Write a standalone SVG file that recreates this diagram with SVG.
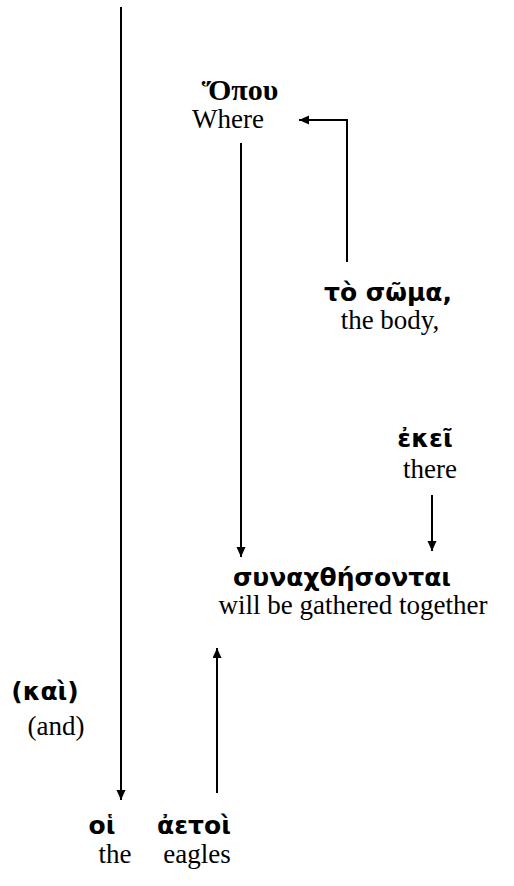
<svg xmlns="http://www.w3.org/2000/svg" width="514" height="886" viewBox="0 0 514 886">
<defs>
<marker id="ah" markerWidth="12" markerHeight="10" refX="10" refY="4.5" orient="auto" markerUnits="userSpaceOnUse">
<path d="M0,0 L10,4.5 L0,9 Z" fill="#000"/>
</marker>
<style>
.gk{font-family:"DejaVu Sans",sans-serif;font-weight:bold;font-size:25px;fill:#000;text-anchor:middle}
.gs{font-family:"Liberation Serif",serif;font-weight:bold;font-size:30px;fill:#000;text-anchor:middle}
.en{font-family:"Liberation Serif",serif;font-size:27px;fill:#000;text-anchor:middle}
.ln{stroke:#000;stroke-width:2;fill:none}
</style>
</defs>
<rect width="514" height="886" fill="#fff"/>
<g id="connectors">
<line class="ln" x1="121" y1="7" x2="121" y2="800" marker-end="url(#ah)"/>
<path class="ln" d="M347,262 V120 H299" marker-end="url(#ah)"/>
<line class="ln" x1="241" y1="143" x2="241" y2="557" marker-end="url(#ah)"/>
<line class="ln" x1="432" y1="495" x2="432" y2="551" marker-end="url(#ah)"/>
<line class="ln" x1="217" y1="793" x2="217" y2="648" marker-end="url(#ah)"/>
</g>
<g id="hopou">
<text class="gs" x="240" y="100">Ὅπου</text>
<text class="en" x="228" y="128">Where</text>
</g>
<g id="to-soma">
<text class="gk" x="388" y="301">τὸ σῶμα,</text>
<text class="en" x="390" y="329">the body,</text>
</g>
<g id="ekei">
<text class="gk" x="425" y="447">ἐκεῖ</text>
<text class="en" x="430" y="478">there</text>
</g>
<g id="synachthesontai">
<text class="gk" x="342" y="586">συναχθήσονται</text>
<text class="en" x="353" y="614">will be gathered together</text>
</g>
<g id="kai">
<text class="gk" x="45" y="700">(καὶ)</text>
<text class="en" x="56" y="735">(and)</text>
</g>
<g id="hoi">
<text class="gk" x="102" y="834">οἱ</text>
<text class="en" x="115" y="863">the</text>
</g>
<g id="aetoi">
<text class="gk" x="194" y="834">ἀετοὶ</text>
<text class="en" x="197" y="863">eagles</text>
</g>
</svg>
